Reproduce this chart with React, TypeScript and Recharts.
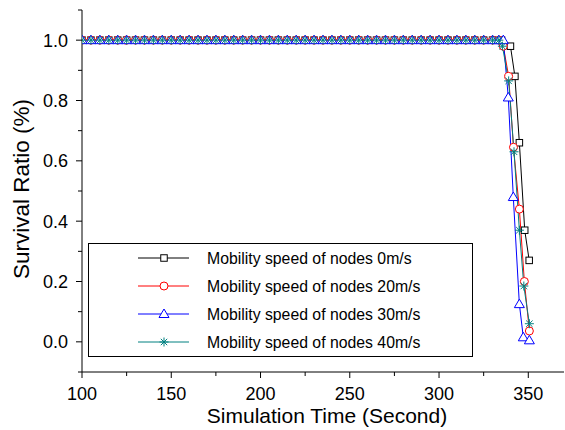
import React from 'react';
import { LineChart, Line, XAxis, YAxis, Legend, Label } from 'recharts';

// Simulation time (s) of the sampled points while every series stays at full survival
const plateauTime = [
  100, 105, 110, 115, 120, 125, 130, 135, 140, 145, 150, 155, 160, 165, 170, 175,
  180, 185, 190, 195, 200, 205, 210, 215, 220, 225, 230, 235, 240, 245, 250, 255,
  260, 265, 270, 275, 280, 285, 290, 295, 300, 305, 310, 315, 320, 325, 330,
];
const plateauRatio = [
  1, 1, 1, 1, 1, 1, 1, 1, 1, 1, 1, 1, 1, 1, 1, 1,
  1, 1, 1, 1, 1, 1, 1, 1, 1, 1, 1, 1, 1, 1, 1, 1,
  1, 1, 1, 1, 1, 1, 1, 1, 1, 1, 1, 1, 1, 1, 1,
];

// Collapse phase for each mobility speed
const speed0Time = [335, 340, 342.5, 345, 348, 350.5];
const speed0Ratio = [1.0, 0.98, 0.88, 0.66, 0.37, 0.27];

const speed20Time = [333.5, 336, 339, 341.7, 345, 347.8, 350.6];
const speed20Ratio = [1.0, 0.98, 0.88, 0.645, 0.44, 0.2, 0.036];

const speed30Time = [333.5, 336, 338.8, 341.6, 345, 347.2, 350.6];
const speed30Ratio = [1.0, 1.0, 0.81, 0.48, 0.125, 0.015, 0.005];

const speed40Time = [333.5, 335.5, 339, 342, 345, 347.5, 350.6];
const speed40Ratio = [1.0, 0.98, 0.865, 0.63, 0.37, 0.185, 0.06];

const seriesNames = [
  'Mobility speed of nodes 0m/s',
  'Mobility speed of nodes 20m/s',
  'Mobility speed of nodes 30m/s',
  'Mobility speed of nodes 40m/s',
];

const xMajorTicks = [100, 150, 200, 250, 300, 350];
const xMinorTicks = [125, 175, 225, 275, 325];
const yMajorTicks = [0, 0.2, 0.4, 0.6, 0.8, 1.0];
const yMinorTicks = [-0.1, 0.1, 0.3, 0.5, 0.7, 0.9, 1.1];

const FONT = '"Liberation Sans", Arial, Helvetica, sans-serif';

type Shape = 'square' | 'circle' | 'triangle' | 'star';

const buildRows = (time: number[], ratio: number[]) =>
  [...plateauTime, ...time].map((t, i) => ({ t, ratio: [...plateauRatio, ...ratio][i] }));

const SERIES: { name: string; color: string; shape: Shape; data: { t: number; ratio: number }[] }[] = [
  { name: seriesNames[0], color: '#000000', shape: 'square', data: buildRows(speed0Time, speed0Ratio) },
  { name: seriesNames[1], color: '#ff0000', shape: 'circle', data: buildRows(speed20Time, speed20Ratio) },
  { name: seriesNames[2], color: '#0000ff', shape: 'triangle', data: buildRows(speed30Time, speed30Ratio) },
  { name: seriesNames[3], color: '#008080', shape: 'star', data: buildRows(speed40Time, speed40Ratio) },
];

const Marker = ({ shape, color, cx, cy }: { shape: Shape; color: string; cx: number; cy: number }) => {
  switch (shape) {
    case 'square':
      return <rect x={cx - 3.25} y={cy - 3.25} width={6.5} height={6.5} fill="#fff" stroke={color} strokeWidth={1} />;
    case 'circle':
      return <circle cx={cx} cy={cy} r={4} fill="#fff" stroke={color} strokeWidth={1} />;
    case 'triangle':
      return (
        <polygon
          points={`${cx},${cy - 5} ${cx - 5},${cy + 3.5} ${cx + 5},${cy + 3.5}`}
          fill="#fff"
          stroke={color}
          strokeWidth={1}
        />
      );
    case 'star': {
      const r = 4.5;
      const d = 3.2;
      return (
        <g stroke={color} strokeWidth={1}>
          <line x1={cx} y1={cy - r} x2={cx} y2={cy + r} />
          <line x1={cx - r} y1={cy} x2={cx + r} y2={cy} />
          <line x1={cx - d} y1={cy - d} x2={cx + d} y2={cy + d} />
          <line x1={cx - d} y1={cy + d} x2={cx + d} y2={cy - d} />
        </g>
      );
    }
  }
  return null;
};

const makeDot = (shape: Shape, color: string) => (props: any) => {
  const { cx, cy, index } = props;
  if (cx == null || cy == null) return <g key={`${shape}-${index}`} />;
  return (
    <g key={`${shape}-${index}`}>
      <Marker shape={shape} color={color} cx={cx} cy={cy} />
    </g>
  );
};

const XTick = (props: any) => {
  const { x, y, payload } = props;
  const v = payload.value;
  const major = xMajorTicks.includes(v);
  return (
    <g>
      <line x1={x} x2={x} y1={y} y2={y + (major ? 6 : 4)} stroke="#000" strokeWidth={1} />
      {major && (
        <text x={x} y={y + 28} textAnchor="middle" fontSize={18} fontFamily={FONT} fill="#000">
          {v}
        </text>
      )}
    </g>
  );
};

const YTick = (props: any) => {
  const { x, y, payload } = props;
  const v = payload.value;
  const major = yMajorTicks.includes(v);
  return (
    <g>
      <line x1={x} x2={x - (major ? 6 : 4)} y1={y} y2={y} stroke="#000" strokeWidth={1} />
      {major && (
        <text x={x - 14} y={y + 6.5} textAnchor="end" fontSize={18} fontFamily={FONT} fill="#000">
          {v.toFixed(1)}
        </text>
      )}
    </g>
  );
};

const XTitle = (props: any) => {
  const vb = props.viewBox;
  return (
    <text x={vb.x + vb.width / 2 + 4} y={vb.y + 51} textAnchor="middle" fontSize={21} fontFamily={FONT} fill="#000">
      Simulation Time (Second)
    </text>
  );
};

const YTitle = (props: any) => {
  const vb = props.viewBox;
  const cx = 29;
  const cy = vb.y + vb.height / 2 - 2;
  return (
    <text
      x={cx}
      y={cy}
      transform={`rotate(-90, ${cx}, ${cy})`}
      textAnchor="middle"
      fontSize={22.5}
      fontFamily={FONT}
      fill="#000"
    >
      Survival Ratio (%)
    </text>
  );
};

const LegendBox = () => (
  <svg width={386} height={115} style={{ display: 'block' }}>
    <rect x={0.5} y={0.5} width={384} height={113} fill="#fff" stroke="#000" strokeWidth={1} />
    {SERIES.map((s, i) => {
      const cy = 15 + i * 28;
      return (
        <g key={s.name}>
          <line x1={50} x2={101} y1={cy} y2={cy} stroke={s.color} strokeWidth={1} />
          <Marker shape={s.shape} color={s.color} cx={76} cy={cy} />
          <text x={119} y={cy + 5.5} fontSize={15.8} fontFamily={FONT} fill="#000">
            {s.name}
          </text>
        </g>
      );
    })}
  </svg>
);

export default function App() {
  return (
    <div style={{ position: 'absolute', left: 0, top: 0, background: '#fff' }}>
      <LineChart
        width={565}
        height={430}
        margin={{ top: 10, right: 1, bottom: 0, left: 0 }}
        style={{ fontFamily: FONT }}
      >
        <XAxis
          type="number"
          dataKey="t"
          domain={[100, 370]}
          ticks={[...xMajorTicks, ...xMinorTicks].sort((a, b) => a - b)}
          interval={0}
          height={58}
          tick={<XTick />}
          tickLine={false}
          tickSize={0}
          tickMargin={0}
          axisLine={{ stroke: '#000', strokeWidth: 1 }}
          allowDataOverflow
        >
          <Label content={XTitle} />
        </XAxis>
        <YAxis
          type="number"
          domain={[-0.1, 1.1]}
          ticks={[...yMajorTicks, ...yMinorTicks].sort((a, b) => a - b)}
          interval={0}
          width={82}
          tick={<YTick />}
          tickLine={false}
          tickSize={0}
          tickMargin={0}
          axisLine={{ stroke: '#000', strokeWidth: 1 }}
          allowDataOverflow
        >
          <Label content={YTitle} />
        </YAxis>
        <Legend
          layout="vertical"
          align="center"
          verticalAlign="middle"
          content={() => <LegendBox />}
          wrapperStyle={{ left: 88, top: 243, width: 386, height: 115, margin: 0, padding: 0 }}
        />
        {SERIES.map((s) => (
          <Line
            key={s.name}
            name={s.name}
            data={s.data}
            dataKey="ratio"
            type="linear"
            stroke={s.color}
            strokeWidth={1}
            dot={makeDot(s.shape, s.color)}
            activeDot={false}
            isAnimationActive={false}
          />
        ))}
      </LineChart>
    </div>
  );
}
